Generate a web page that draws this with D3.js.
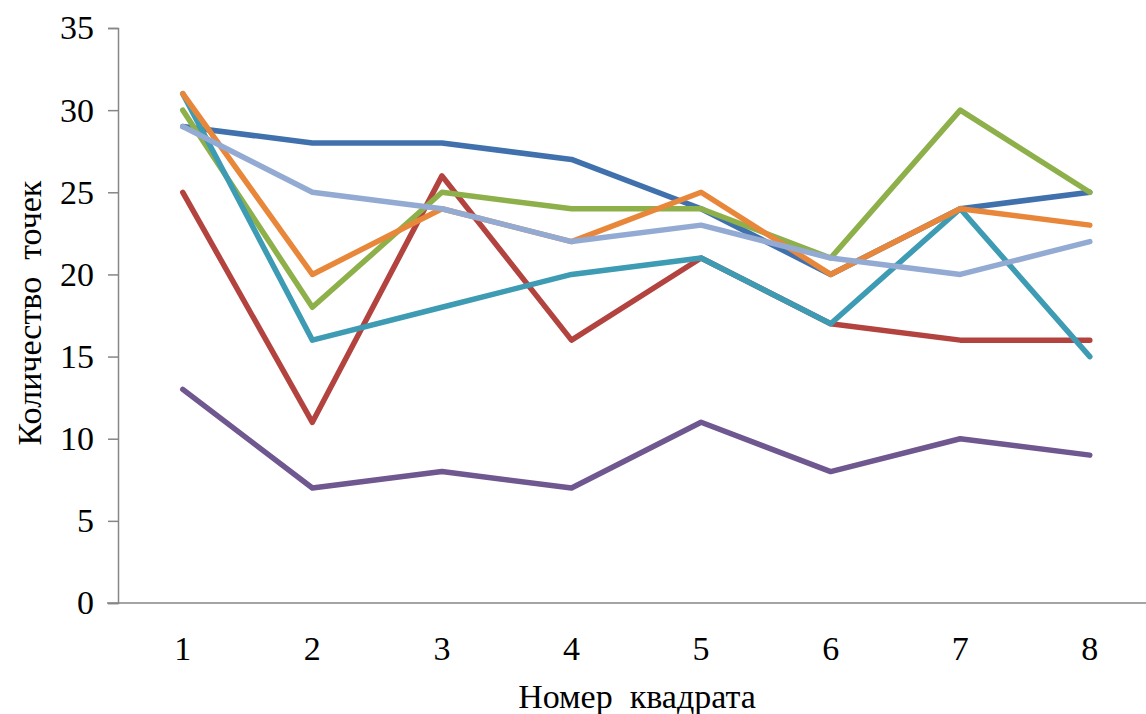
<!DOCTYPE html>
<html><head><meta charset="utf-8">
<script src="https://cdn.jsdelivr.net/npm/d3@7"></script>
<style>body{margin:0;background:#fff}svg{display:block}text{font-family:"Liberation Serif","DejaVu Serif",serif !important}</style>
</head><body>
<svg id="c" width="1146" height="714"></svg>
<script>
const categories = ["1","2","3","4","5","6","7","8"];
const yTicks = [0,5,10,15,20,25,30,35];
const sBlue      = [29,28,28,27,24,20,24,25];
const sRed       = [25,11,26,16,21,17,16,16];
const sGreen     = [30,18,25,24,24,21,30,25];
const sPurple    = [13,7,8,7,11,8,10,9];
const sTeal      = [31,16,18,20,21,17,24,15];
const sOrange    = [31,20,24,22,25,20,24,23];
const sLightBlue = [29,25,24,22,23,21,20,22];
const series = [
  {v:sBlue, c:"#4171ad"},
  {v:sRed, c:"#b3433f"},
  {v:sGreen, c:"#8db04a"},
  {v:sPurple, c:"#6f578f"},
  {v:sTeal, c:"#3d9bb3"},
  {v:sOrange, c:"#e8873a"},
  {v:sLightBlue, c:"#93aad3"}
];
const svg = d3.select("#c");
const x0 = 118, x1 = 1154.6, yTop = 28, yBot = 603;
const x = d3.scaleBand().domain(categories).range([x0, x1]);
const y = d3.scaleLinear().domain([0,35]).range([yBot, yTop]);
const fs = 34;

// y axis
const ya = svg.append("g").attr("transform",`translate(${x0},0)`)
  .call(d3.axisLeft(y).tickValues(yTicks).tickSize(10).tickPadding(14));
ya.select(".domain").attr("stroke","#868686").attr("stroke-width",1.5);
ya.selectAll(".tick line").attr("stroke","#868686").attr("stroke-width",1.5);
ya.selectAll(".tick text").attr("font-size",fs).attr("fill","#000").attr("dy","0.32em");

// x axis
svg.append("line").attr("x1",107).attr("x2",1146).attr("y1",yBot).attr("y2",yBot)
  .attr("stroke","#868686").attr("stroke-width",1.5);
const xa = svg.append("g").attr("transform",`translate(0,${yBot})`)
  .call(d3.axisBottom(x).tickSize(0).tickPadding(33));
xa.select(".domain").remove();
xa.selectAll(".tick text").attr("font-size",fs).attr("fill","#000");

const line = d3.line().x((d,i)=>x(categories[i])+x.bandwidth()/2).y(d=>y(d));
series.forEach(s=>{
  svg.append("path").attr("d",line(s.v)).attr("fill","none").attr("stroke",s.c)
    .attr("stroke-width",5.5).attr("stroke-linejoin","round").attr("stroke-linecap","round");
});

svg.append("text").attr("x",637).attr("y",708).attr("text-anchor","middle")
  .attr("font-size",fs).style("white-space","pre").text("Номер  квадрата");
svg.append("text").attr("transform","translate(41,313) rotate(-90)").attr("text-anchor","middle")
  .attr("font-size",fs).style("white-space","pre").text("Количество  точек");
</script>
</body></html>
